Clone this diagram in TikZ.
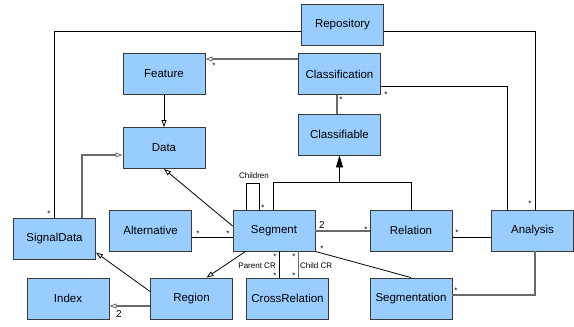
\documentclass[tikz,border=0pt]{standalone}
\usepackage{fontspec}
\setmainfont{Liberation Sans}
\usetikzlibrary{arrows.meta,calc}
\definecolor{boxfill}{HTML}{99CCFF}
\definecolor{boxline}{HTML}{3A3A3A}
\definecolor{greyline}{HTML}{6A6A6A}
\tikzset{
  umlbox/.style={draw=boxline, fill=boxfill, line width=0.9pt, minimum width=82pt, minimum height=41pt, inner sep=0pt, font=\fontsize{11.5}{13}\selectfont},
  blk/.style={draw=black, line width=0.8pt},
  gry/.style={draw=greyline, line width=1.2pt},
  oarrow/.style={-{Triangle[open,length=7pt,width=5pt,line width=0.8pt]}},
  farrow/.style={-{Triangle[length=12pt,width=7pt]}},
  mult/.style={font=\fontsize{8}{9}\selectfont, inner sep=0pt},
  num/.style={font=\fontsize{10}{11}\selectfont, inner sep=0pt},
  rolelab/.style={font=\fontsize{8}{9}\selectfont, inner sep=0pt}
}
\begin{document}
\begin{tikzpicture}[x=1pt,y=-1pt]
\useasboundingbox (0,0) rectangle (574,327);
% nodes
\node[umlbox] (repo) at (342.5,24.5) {Repository};
\node[umlbox] (cls) at (339.5,74) {Classification};
\node[umlbox] (clb) at (339.5,134.5) {Classifiable};
\node[umlbox] (feat) at (164,74) {Feature};
\node[umlbox] (data) at (164,148) {Data};
\node[umlbox] (sig) at (54.5,238.5) {SignalData};
\node[umlbox] (alt) at (150.5,230.5) {Alternative};
\node[umlbox] (seg) at (274,230.5) {Segment};
\node[umlbox] (rel) at (411,230.5) {Relation};
\node[umlbox] (ana) at (532.5,230.5) {Analysis};
\node[umlbox] (idx) at (68,298.5) {Index};
\node[umlbox] (reg) at (191.5,298.5) {Region};
\node[umlbox] (cr) at (287.5,298.5) {CrossRelation};
\node[umlbox] (segm) at (411,298.5) {Segmentation};
\coordinate (join) at (339.5,182);
% connectors
\draw[blk] ($(repo.west)+(0,6.5)$) -| ($(sig.north)+(-0.5,0)$);
\draw[blk] ($(repo.east)+(0,6.5)$) -| ($(ana.north)+(2.5,0)$);
\draw[gry,oarrow] ($(cls.west)+(0,-15)$) -- ($(feat.east)+(0,-15)$);
\draw[gry] ($(cls.south)+(-2.5,0)$) -- ($(clb.north)+(-2.5,0)$);
\draw[blk] ($(cls.east)+(0,12.5)$) -| ($(ana.north)+(-25.5,0)$);
\draw[blk,oarrow] (feat) -- (data);
\draw[gry,oarrow] ($(sig.north)+(27.5,0)$) |- ($(data.west)+(0,7)$);
\draw[blk,oarrow] ($(seg.west)+(0,-4.5)$) -- (data.south);
\draw[blk] ($(seg.north west)+(14,0)$) -- ++(0,-26) -| ($(seg.north west)+(27,0)$);
\draw[blk] ($(seg.north)+(-1,0)$) |- (join);
\draw[blk] (rel.north) |- (join);
\draw[blk,farrow] (join) -- (clb.south);
\draw[blk] ($(alt.east)+(0,7)$) -- ($(seg.west)+(0,7)$);
\draw[gry] ($(seg.east)+(0,0.5)$) -- ($(rel.west)+(0,0.5)$);
\draw[blk] ($(rel.east)+(0,7)$) -- ($(ana.west)+(0,7)$);
\draw[blk,oarrow] ($(seg.south west)+(13,0)$) -- ($(reg.north)+(15,0)$);
\draw[blk,oarrow] ($(reg.west)+(0,-7)$) -- ($(sig.east)+(0,14)$);
\draw[gry,oarrow] ($(reg.west)+(0,7.5)$) -- ($(idx.east)+(0,7.5)$);
\draw[blk] ($(seg.south)+(5.3,0)$) -- ($(cr.north)+(-8.2,0)$);
\draw[gry] ($(seg.south)+(24.3,0)$) -- ($(cr.north)+(10.8,0)$);
\draw[blk] (seg.south east) -- (segm.north);
\draw[gry] ($(segm.east)+(0,-3.5)$) -| ($(ana.south)+(2.5,0)$);
% labels
\node[mult] (m1) at (49,214) {*};
\node[mult] (m2) at (530,204) {*};
\node[mult] (m3) at (214,66) {*};
\node[mult] (m4) at (341,100) {*};
\node[mult] (m5) at (386,95) {*};
\node[rolelab] (lchild) at (254,176) {Children};
\node[mult] (m6) at (263,208) {*};
\node[mult] (m7) at (198,234) {*};
\node[mult] (m8) at (228,234) {*};
\node[num] (n1) at (322,225) {2};
\node[mult] (m9) at (366,230) {*};
\node[mult] (m10) at (457,233) {*};
\node[num] (n2) at (119,314) {2};
\node[mult] (m11) at (275,257) {*};
\node[mult] (m12) at (275,276) {*};
\node[mult] (m13) at (294,257) {*};
\node[mult] (m14) at (294,276) {*};
\node[rolelab,anchor=east] (lpar) at (276,266) {Parent CR};
\node[rolelab,anchor=west] (lcc) at (300,266) {Child CR};
\node[mult] (m15) at (322,249) {*};
\node[mult] (m16) at (456,291) {*};
\end{tikzpicture}
\end{document}
